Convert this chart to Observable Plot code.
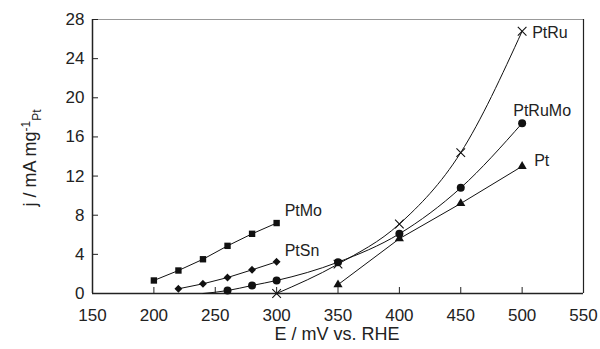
<!DOCTYPE html>
<html><head><meta charset="utf-8">
<script src="https://cdn.jsdelivr.net/npm/d3@7"></script>
<script src="https://cdn.jsdelivr.net/npm/@observablehq/plot@0.6"></script>
<style>body{margin:0;background:#fff}svg{font-family:"Liberation Sans",Arial,sans-serif}</style>
</head><body><div id="chart"></div>
<script>
const xTicks = [150,200,250,300,350,400,450,500,550];
const yTicks = [0,4,8,12,16,20,24,28];

const ptMoE = [200,220,240,260,280,300];
const ptMoJ = [1.33,2.35,3.5,4.87,6.1,7.2];
const ptSnE = [220,240,260,280,300];
const ptSnJ = [0.48,0.99,1.63,2.42,3.24];
const ptRuMoE = [240,260,280,300,350,400,450,500];
const ptRuMoJ = [0,0.3,0.82,1.33,3.2,6.1,10.8,17.4];
const ptRuE = [300,350,400,450,500];
const ptRuJ = [0,3.0,7.1,14.4,26.8];
const ptE = [350,400,450,500];
const ptJ = [0.9,5.6,9.2,13.0];

const toRows = (E, J) => E.map((e, i) => ({E: e, j: J[i]}));
const ptMo = toRows(ptMoE, ptMoJ);
const ptSn = toRows(ptSnE, ptSnJ);
const ptRuMo = toRows(ptRuMoE, ptRuMoJ);
const ptRu = toRows(ptRuE, ptRuJ);
const pt = toRows(ptE, ptJ);
const last = a => [a[a.length - 1]];

const chart = Plot.plot({
  width: 600, height: 349,
  marginLeft: 92, marginRight: 17, marginTop: 19, marginBottom: 56,
  style: {fontSize: "17px", fontFamily: "'Liberation Sans', Arial, sans-serif", color: "#222"},
  x: {domain: [150, 550], ticks: xTicks},
  y: {domain: [0, 28], ticks: yTicks},
  marks: [
    Plot.ruleY([28], {stroke: "#999", strokeWidth: 1}),
    Plot.ruleX([550], {stroke: "#222", strokeWidth: 1.2}),
    Plot.ruleX([150], {stroke: "#222", strokeWidth: 1.5}),
    Plot.ruleY([0], {stroke: "#222", strokeWidth: 1.5}),
    Plot.axisX({ticks: xTicks, tickSize: -6, tickPadding: 21, label: null, fontSize: 17, fill: "#222", stroke: "#222"}),
    Plot.axisY({ticks: yTicks, tickSize: -6, tickPadding: 14, label: null, fontSize: 17, fill: "#222", stroke: "#222"}),
    Plot.line(ptMo, {x: "E", y: "j", stroke: "#111", strokeWidth: 1}),
    Plot.line(ptSn, {x: "E", y: "j", stroke: "#111", strokeWidth: 1}),
    Plot.line(ptRuMo, {x: "E", y: "j", stroke: "#111", strokeWidth: 1, curve: "monotone-x"}),
    Plot.line(ptRu, {x: "E", y: "j", stroke: "#111", strokeWidth: 1, curve: "monotone-x"}),
    Plot.line(pt, {x: "E", y: "j", stroke: "#111", strokeWidth: 1}),
    Plot.dot(ptMo, {x: "E", y: "j", symbol: "square", fill: "#111", r: 3.6}),
    Plot.dot(ptSn, {x: "E", y: "j", symbol: "diamond2", fill: "#111", stroke: "#111", r: 2.6}),
    Plot.dot(ptRuMo.filter(d => d.j > 0), {x: "E", y: "j", symbol: "circle", fill: "#111", r: 4}),
    Plot.dot(ptRu, {x: "E", y: "j", symbol: "times", stroke: "#111", strokeWidth: 1.1, r: 4}),
    Plot.dot(pt, {x: "E", y: "j", symbol: "triangle", fill: "#111", r: 3.4}),
    Plot.text(last(ptRu), {x: "E", y: "j", text: () => "PtRu", textAnchor: "start", dx: 10, dy: 2, fontSize: 16, fill: "#222"}),
    Plot.text(last(ptRuMo), {x: "E", y: "j", text: () => "PtRuMo", textAnchor: "middle", dx: 20, dy: -12, fontSize: 16, fill: "#222"}),
    Plot.text(last(pt), {x: "E", y: "j", text: () => "Pt", textAnchor: "start", dx: 12, dy: -5, fontSize: 16, fill: "#222"}),
    Plot.text(last(ptMo), {x: "E", y: "j", text: () => "PtMo", textAnchor: "start", dx: 8, dy: -12, fontSize: 16, fill: "#222"}),
    Plot.text(last(ptSn), {x: "E", y: "j", text: () => "PtSn", textAnchor: "start", dx: 8, dy: -11, fontSize: 16, fill: "#222"})
  ]
});
document.getElementById("chart").appendChild(chart);

const svg = d3.select(chart);
svg.append("text")
  .attr("x", 337).attr("y", 340)
  .attr("text-anchor", "middle")
  .attr("font-size", 18).attr("fill", "#222")
  .text("E / mV vs. RHE");
const yl = svg.append("text")
  .attr("transform", "translate(36,158) rotate(-90)")
  .attr("text-anchor", "middle")
  .attr("font-size", 18).attr("fill", "#222");
yl.append("tspan").text("j / mA mg");
yl.append("tspan").attr("font-size", 12).attr("dy", -6).text("-1");
yl.append("tspan").attr("font-size", 12).attr("dy", 11).text("Pt");
</script>
</body></html>
